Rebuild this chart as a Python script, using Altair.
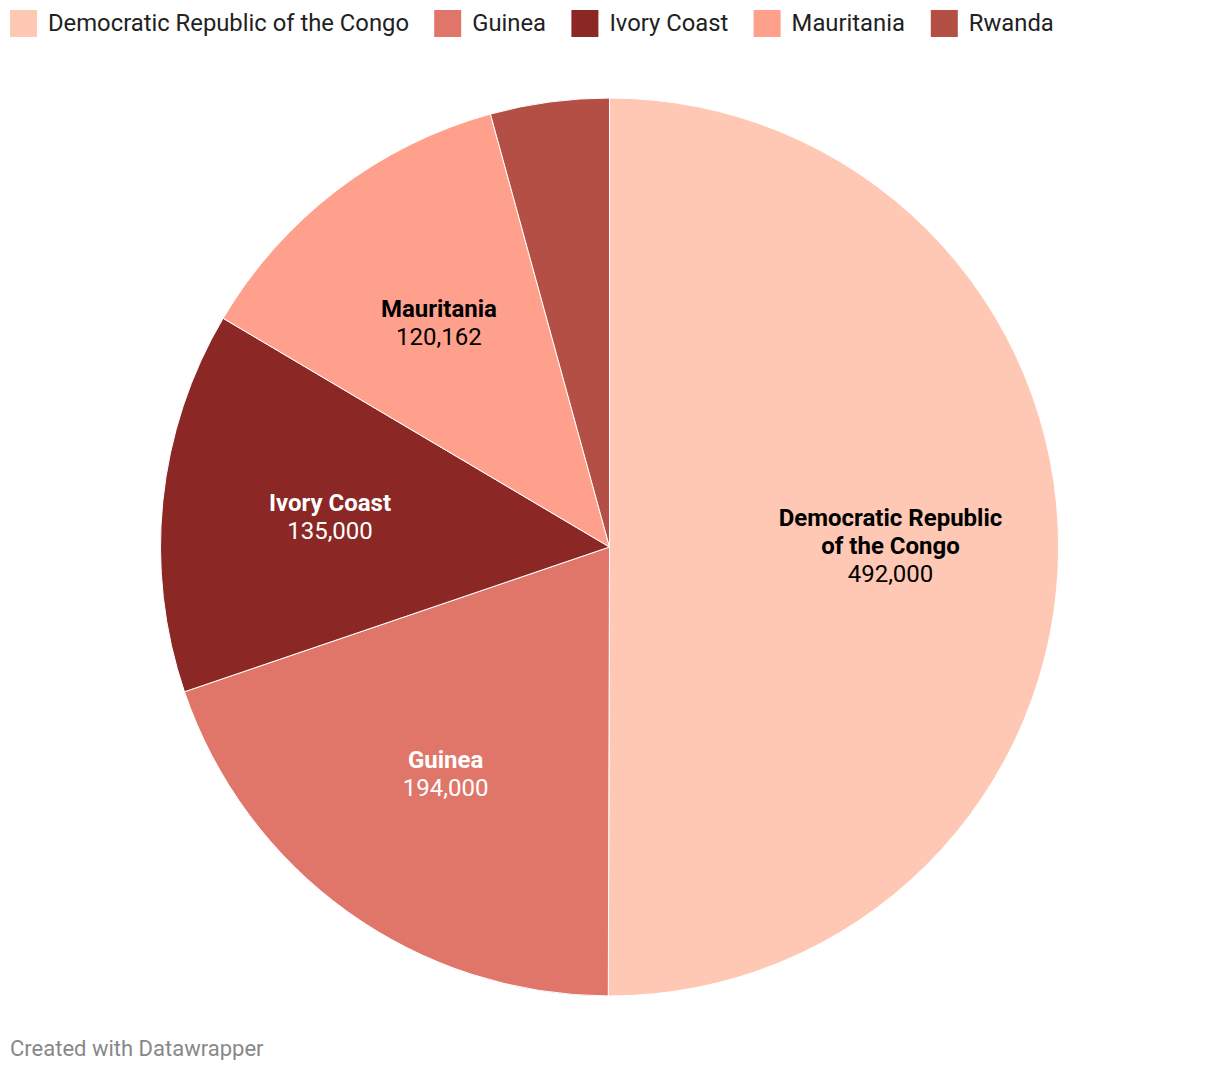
import altair as alt
import pandas as pd

countries = ["Democratic Republic of the Congo", "Guinea", "Ivory Coast", "Mauritania", "Rwanda"]
values = [492000, 194000, 135000, 120162, 42000]
name_labels = ["Democratic Republic\nof the Congo", "Guinea", "Ivory Coast", "Mauritania", ""]
value_labels = ["492,000", "194,000", "135,000", "120,162", ""]
line_counts = [2, 1, 1, 1, 1]
colors = ["#ffc8b4", "#e0766a", "#8b2724", "#ffa08d", "#b44f45"]
text_colors = ["#000000", "#ffffff", "#ffffff", "#000000", "#000000"]

df = pd.DataFrame({
    "country": countries,
    "value": values,
    "name_single": [t if n == 1 else "" for t, n in zip(name_labels, line_counts)],
    "name_multi": [t if n > 1 else "" for t, n in zip(name_labels, line_counts)],
    "val_single": [v if n == 1 else "" for v, n in zip(value_labels, line_counts)],
    "val_multi": [v if n > 1 else "" for v, n in zip(value_labels, line_counts)],
    "tcolor": text_colors,
    "idx": list(range(len(countries))),
})

CX, CY, R, LR = 601.5, 539, 449, 281
FS = 24

base = alt.Chart(df).encode(
    theta=alt.Theta("value:Q", stack=True),
    order=alt.Order("idx:Q"),
)

arcs = base.mark_arc(outerRadius=R, stroke="white", strokeWidth=1).encode(
    color=alt.Color(
        "country:N",
        scale=alt.Scale(domain=countries, range=colors),
        legend=alt.Legend(
            title=None,
            orient="none",
            legendX=2,
            legendY=2,
            direction="horizontal",
            columns=5,
            symbolType="square",
            symbolSize=729,
            symbolStrokeWidth=0,
            symbolOpacity=1,
            labelFont="Roboto",
            labelFontSize=23.8,
            labelColor="#222222",
            labelOffset=11,
            labelLimit=600,
            columnPadding=25.2,
        ),
    ),
    x=alt.value(CX),
    y=alt.value(CY),
)

txt_common = dict(radius=LR, font="Roboto", fontSize=FS, lineHeight=28, lineBreak="\n", align="center", baseline="middle")


def layer_text(field, dy, bold):
    kw = dict(txt_common)
    if bold:
        kw["fontWeight"] = "bold"
    return base.mark_text(dy=dy, **kw).encode(
        text=f"{field}:N",
        fill=alt.Fill("tcolor:N", scale=None),
        x=alt.value(CX),
        y=alt.value(CY),
    )


names_single = layer_text("name_single", -14, True)
names_multi = layer_text("name_multi", -28, True)
vals_single = layer_text("val_single", 14, False)
vals_multi = layer_text("val_multi", 28, False)

chart = alt.layer(arcs, names_single, names_multi, vals_single, vals_multi).properties(
    width=1204,
    height=1020,
    padding=0,
    background="white",
    title=alt.TitleParams(
        "Created with Datawrapper",
        orient="bottom",
        anchor="start",
        font="Roboto",
        fontSize=22,
        fontWeight="normal",
        color="#888888",
        offset=11,
        dx=2,
    ),
).configure_view(stroke=None)

chart.save("out.html", embed_options={"renderer": "svg", "actions": False})
